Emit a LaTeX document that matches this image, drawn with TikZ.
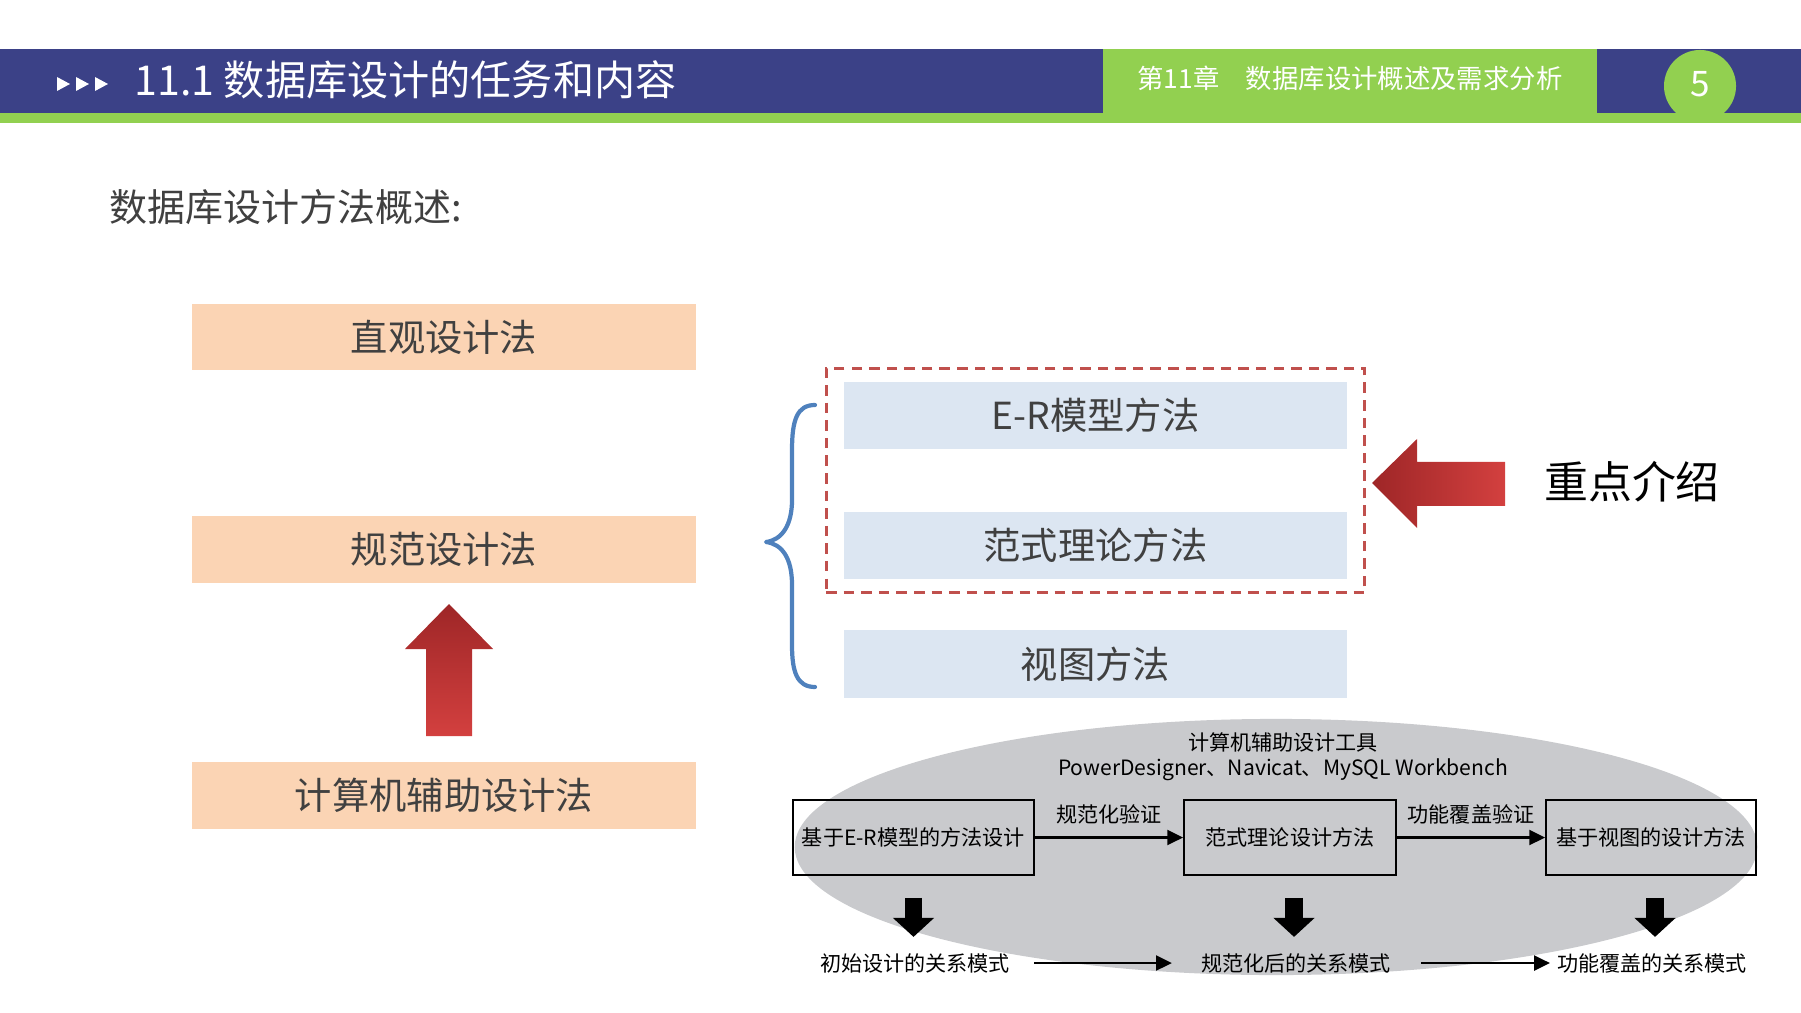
\documentclass[tikz,border=0pt]{standalone}
\usepackage{fontspec}
\setmainfont{Noto Sans CJK SC}
\usetikzlibrary{arrows.meta,shapes.geometric,positioning,calc,fit}
\definecolor{hdrblue}{HTML}{3B4187}
\definecolor{hdrgreen}{HTML}{92D050}
\definecolor{peach}{HTML}{FBD4B4}
\definecolor{paleblue}{HTML}{DCE6F2}
\definecolor{txtgray}{HTML}{404040}
\definecolor{dashred}{HTML}{C0504D}
\definecolor{bracebl}{HTML}{4F81BD}
\definecolor{arrdark}{HTML}{9E2627}
\definecolor{arrlight}{HTML}{D3403F}
\definecolor{toolgray}{HTML}{C9CACD}

\begin{document}
\begin{tikzpicture}[x=0.01cm, y=-0.01cm,
    legacy/.style={fill=peach, minimum width=5.04cm, minimum height=0.66cm, inner sep=0pt, text=txtgray, font=\fontsize{10.6}{12}\selectfont},
    method/.style={fill=paleblue, minimum width=5.03cm, minimum height=0.67cm, inner sep=0pt, text=txtgray, font=\fontsize{10.6}{12}\selectfont},
    stage/.style={draw=black, line width=0.5pt, minimum height=0.75cm, inner sep=0pt, font=\fontsize{6}{7}\selectfont},
    result/.style={inner sep=1pt, font=\fontsize{6}{7}\selectfont},
    flow/.style={-{Triangle[length=4.5pt,width=4.3pt]}, line width=0.6pt},
    drop/.style={-{Triangle[length=5.4pt,width=11.4pt]}, line width=5.1pt},
    lbl/.style={font=\fontsize{6}{7.1}\selectfont, inner sep=1pt}
]
\useasboundingbox (0,0) rectangle (1801,1013);

\fill[hdrgreen] (0,113) rectangle (1801,123);
\fill[hdrblue] (0,49) rectangle (1801,113);
\fill[hdrgreen] (1103,49) rectangle (1597,113);
\fill[hdrgreen] (1700,86) circle [radius=0.36cm];
\foreach \x in {57,76,95} \fill[white] (\x,77) -- (\x+13,84) -- (\x,91) -- cycle;
\node[anchor=west, inner sep=0pt, text=white, font=\fontsize{11.7}{14}\selectfont] (title) at (134,80) {11.1 数据库设计的任务和内容};
\node[text=white, font=\fontsize{7.5}{9}\selectfont] (chap) at (1350,78) {第11章　数据库设计概述及需求分析};
\node[text=white, font=\fontsize{10}{12}\selectfont] (pageno) at (1700,84) {5};

\node[anchor=west, inner sep=0pt, text=txtgray, font=\fontsize{10.8}{13}\selectfont] (sub) at (109,207) {数据库设计方法概述:};

\node[legacy] (intuit) at (444,337) {直观设计法};
\node[legacy] (norm) at (444,549.5) {规范设计法};
\node[legacy] (cad) at (444,795.5) {计算机辅助设计法};
\shade[top color=arrdark, bottom color=arrlight] (449,604) -- (493,649) -- (472,649) -- (472,736) -- (426,736) -- (426,649) -- (405,649) -- cycle;

\node[method] (er) at (1095.5,415.5) {E-R模型方法};
\node[method] (nf) at (1095.5,545.5) {范式理论方法};
\node[method] (view) at (1095.5,664) {视图方法};
\node[draw=dashred, line width=0.9pt, dash pattern=on 3pt off 2pt, fit=(er)(nf), inner xsep=0.17cm, inner ysep=0.13cm] (focus) {};
\draw[bracebl, line width=1.2pt, line join=round, line cap=round] (815,405) .. controls (797,405) and (792,420) .. (792,450) -- (792,500)
  .. controls (792,525) and (782,540) .. (766,542) .. controls (782,544) and (792,558) .. (792,585)
  -- (792,645) .. controls (792,672) and (797,687) .. (815,687);
\shade[left color=arrdark, right color=arrlight] (1372,483) -- (1417,439) -- (1417,462) -- (1505,462) -- (1505,506) -- (1417,506) -- (1417,528) -- cycle;
\node[font=\fontsize{12.5}{15}\selectfont] (key) at (1632,482) {重点介绍};

\node[ellipse, minimum width=9.62cm, minimum height=2.56cm, inner sep=0pt, fill=toolgray] (toolbg) at (1276,847) {};
\node[lbl, align=center] (tools) at (1283,757) {计算机辅助设计工具\\PowerDesigner、Navicat、MySQL Workbench};
\node[stage, minimum width=2.41cm] (s1) at (913.5,837.5) {基于E-R模型的方法设计};
\node[stage, minimum width=2.12cm] (s2) at (1290,837.5) {范式理论设计方法};
\node[stage, minimum width=2.10cm] (s3) at (1651,837.5) {基于视图的设计方法};
\draw[flow] (s1) -- node[lbl, above=2.5pt] {规范化验证} (s2);
\draw[flow] (s2) -- node[lbl, above=2.5pt] {功能覆盖验证} (s3);
\foreach \s/\dx in {s1/0,s2/4,s3/4} \draw[drop] ($(\s.south)+(\dx,22)$) -- ($(\s.south)+(\dx,61)$);
\node[result] (r1) at (915,963) {初始设计的关系模式};
\node[result] (r2) at (1296,963) {规范化后的关系模式};
\node[result] (r3) at (1652,963) {功能覆盖的关系模式};
\draw[flow, shorten <=0.2cm, shorten >=0.25cm] (r1) -- (r2);
\draw[flow, shorten <=0.26cm, shorten >=0.03cm] (r2) -- (r3);
\end{tikzpicture}
\end{document}
